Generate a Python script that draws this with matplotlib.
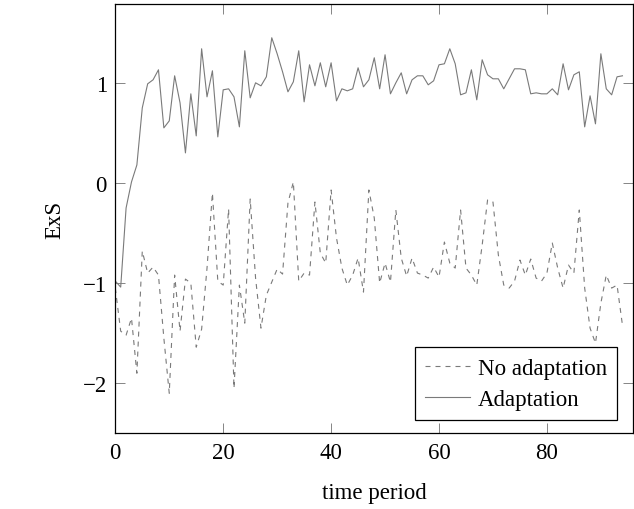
"""Recreate the ExS over time comparison chart (no adaptation vs adaptation)."""

import matplotlib

matplotlib.use("Agg")
import matplotlib.pyplot as plt
import numpy as np


OUTPUT_PATH = "out.png"

# time periods 0..94
time_period = np.arange(95)

no_adaptation = [
    -1.05, -1.48, -1.52, -1.35, -1.90, -0.68, -0.90, -0.84, -0.92, -1.55,
    -2.10, -0.92, -1.48, -0.96, -1.00, -1.64, -1.46, -0.85, -0.10, -0.98,
    -1.02, -0.26, -2.05, -1.02, -1.40, -0.16, -0.95, -1.45, -1.12, -0.99,
    -0.86, -0.91, -0.20, 0.01, -0.98, -0.90, -0.92, -0.19, -0.70, -0.80,
    -0.07, -0.55, -0.85, -1.02, -0.92, -0.75, -1.09, -0.07, -0.35, -1.00,
    -0.80, -0.99, -0.27, -0.75, -0.93, -0.75, -0.90, -0.92, -0.95, -0.84,
    -0.94, -0.59, -0.80, -0.85, -0.27, -0.85, -0.92, -1.02, -0.62, -0.17,
    -0.19, -0.72, -1.02, -1.05, -0.98, -0.77, -0.92, -0.76, -0.95, -0.98,
    -0.90, -0.60, -0.85, -1.05, -0.82, -0.90, -0.27, -1.05, -1.45, -1.60,
    -1.20, -0.92, -1.05, -1.02, -1.42,
]

adaptation = [
    -0.98, -1.04, -0.25, 0.01, 0.18, 0.75, 0.99, 1.03, 1.13, 0.55,
    0.62, 1.07, 0.80, 0.30, 0.89, 0.47, 1.34, 0.86, 1.12, 0.46,
    0.93, 0.94, 0.86, 0.56, 1.32, 0.85, 1.00, 0.97, 1.06, 1.45,
    1.29, 1.11, 0.91, 1.01, 1.32, 0.81, 1.18, 0.97, 1.20, 0.96,
    1.20, 0.82, 0.94, 0.92, 0.94, 1.15, 0.96, 1.03, 1.25, 0.94,
    1.28, 0.89, 1.00, 1.10, 0.89, 1.03, 1.07, 1.07, 0.98, 1.02,
    1.18, 1.19, 1.34, 1.19, 0.88, 0.90, 1.13, 0.83, 1.23, 1.08,
    1.04, 1.04, 0.94, 1.04, 1.14, 1.14, 1.13, 0.89, 0.90, 0.89,
    0.89, 0.94, 0.88, 1.19, 0.93, 1.08, 1.11, 0.56, 0.87, 0.59,
    1.29, 0.94, 0.88, 1.06, 1.07,
]

x_ticks = [0, 20, 40, 60, 80]
y_ticks = [-2, -1, 0, 1]

plt.rcParams["font.family"] = ["Liberation Serif", "DejaVu Serif"]
plt.rcParams["font.size"] = 16.5

fig = plt.figure(figsize=(6.34, 5.10), dpi=100)
ax = fig.add_axes([115.3 / 634, 1 - 434.3 / 510, 517.4 / 634, 429.6 / 510])

line_color = "#7a7a7a"
ax.plot(time_period, no_adaptation, color=line_color, linewidth=0.8,
        dashes=(4.5, 4.5), label="No adaptation")
ax.plot(time_period, adaptation, color=line_color, linewidth=0.8,
        label="Adaptation")

ax.set_xlim(0, 95.9)
ax.set_ylim(-2.5, 1.79)
ax.set_xticks(x_ticks)
ax.set_yticks(y_ticks)

ax.tick_params(axis="both", which="major", direction="in", length=7,
               width=0.5, color="#555555", top=True, right=True, pad=6)
for spine in ax.spines.values():
    spine.set_linewidth(0.9)

ax.set_xlabel("time period")
ax.set_ylabel("ExS")
ax.xaxis.set_label_coords(0.5, -0.113)
ax.yaxis.set_label_coords(-0.097, 0.5)

legend = ax.legend(loc="lower right", bbox_to_anchor=(0.97, 0.03),
                   fancybox=False, edgecolor="black", framealpha=1,
                   handlelength=1.95, handletextpad=0.35, labelspacing=0.45,
                   borderpad=0.45, borderaxespad=0)
legend.get_frame().set_linewidth(0.9)

fig.savefig(OUTPUT_PATH, dpi=100)
plt.close(fig)
